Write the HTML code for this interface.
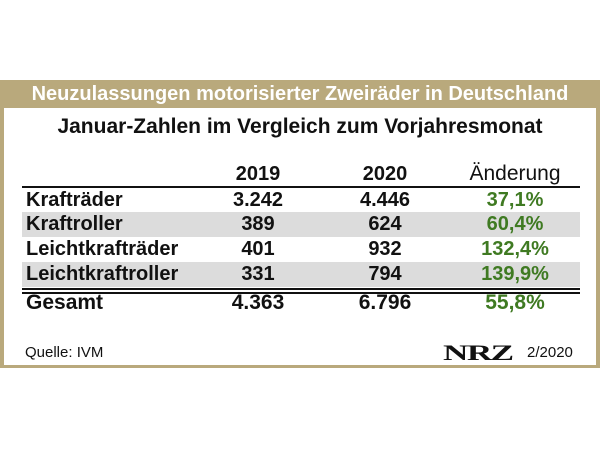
<!DOCTYPE html>
<html><head><meta charset="utf-8"><style>
body{margin:0;width:600px;height:450px;background:#fff;position:relative;font-family:"Liberation Sans",sans-serif;overflow:hidden}
.abs{position:absolute}
#frame{left:0;top:80px;width:600px;height:288px;background:#b9a97c}
#inner{left:4px;top:108px;width:592px;height:257px;background:#fff}
#title{left:0;top:80px;width:600px;height:28px;line-height:29px;text-align:center;color:#fff;font-weight:bold;font-size:20px}
#sub{left:0;top:115px;width:600px;text-align:center;font-size:21px;font-weight:bold;color:#111}
.row{position:absolute;left:22px;width:558px;height:24.5px;line-height:24.5px;font-size:20px;font-weight:bold;color:#111}
.row span{position:absolute;top:0}
.c0{left:4px}.c1{left:186px;width:100px;text-align:center}.c2{left:313px;width:100px;text-align:center}.c3{left:443px;width:100px;text-align:center;color:#3f7a22}
.grey{background:#dcdcdc}
</style></head><body>
<div class="abs" id="frame"></div>
<div class="abs" id="inner"></div>
<div class="abs" id="title">Neuzulassungen motorisierter Zweiräder in Deutschland</div>
<div class="abs" id="sub">Januar-Zahlen im Vergleich zum Vorjahresmonat</div>
<div class="row" style="top:162px;font-weight:normal;font-size:20px"><span class="c1" style="font-weight:bold">2019</span><span class="c2" style="font-weight:bold">2020</span><span class="c3" style="color:#111;font-weight:normal;width:110px;left:438px;font-size:21px">Änderung</span></div>
<div class="abs" style="left:22px;top:186px;width:558px;height:2px;background:#111"></div>
<div class="row" style="top:188px"><span class="c0">Krafträder</span><span class="c1">3.242</span><span class="c2">4.446</span><span class="c3">37,1%</span></div>
<div class="row grey" style="top:212px"><span class="c0">Kraftroller</span><span class="c1">389</span><span class="c2">624</span><span class="c3">60,4%</span></div>
<div class="row" style="top:237px"><span class="c0">Leichtkrafträder</span><span class="c1">401</span><span class="c2">932</span><span class="c3">132,4%</span></div>
<div class="row grey" style="top:262px"><span class="c0">Leichtkraftroller</span><span class="c1">331</span><span class="c2">794</span><span class="c3">139,9%</span></div>
<div class="abs" style="left:22px;top:288px;width:558px;height:2px;background:#111"></div>
<div class="abs" style="left:22px;top:291.5px;width:558px;height:2px;background:#111"></div>
<div class="row" style="top:291px;font-size:21px"><span class="c0">Gesamt</span><span class="c1">4.363</span><span class="c2">6.796</span><span class="c3">55,8%</span></div>
<div class="abs" style="left:25px;top:344px;font-size:15px;color:#111">Quelle: IVM</div>
<div class="abs" style="left:443px;top:340px;font-family:'Liberation Serif',serif;font-weight:bold;font-size:22px;letter-spacing:-1px;color:#111;transform:scaleX(1.6);transform-origin:left">NRZ</div>
<div class="abs" style="left:527px;top:344px;font-size:15px;color:#111">2/2020</div>
</body></html>
